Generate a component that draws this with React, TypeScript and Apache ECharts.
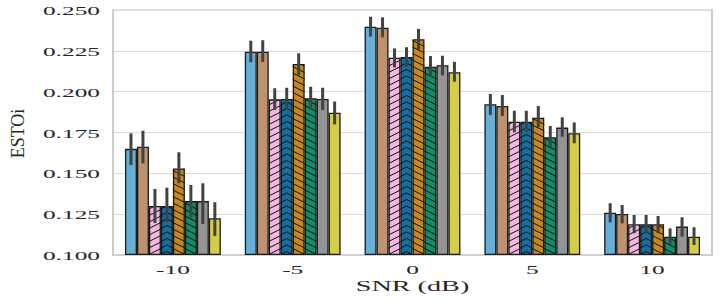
import React, { useEffect, useRef } from 'react';
import * as echarts from 'echarts';

const categories = ['-10', '-5', '0', '5', '10'];
const yTicks = [0.1, 0.125, 0.15, 0.175, 0.2, 0.225, 0.25];
const xAxisTitle = 'SNR (dB)';
const yAxisTitle = 'ESTOi';

const seriesNames = ['M1', 'M2', 'M3', 'M4', 'M5', 'M6', 'M7', 'M8'];
const seriesColors = ['#68AFD7', '#BD926E', '#F2B9E0', '#176D9C', '#C38820', '#168B6A', '#949494', '#D5CD4A'];
const seriesHatch = ['', '', 'up', 'chevron', 'down', 'down', '', ''];

const m1Mean = [0.165, 0.2245, 0.2398, 0.1923, 0.1259];
const m1Low = [0.1551, 0.218, 0.2337, 0.1857, 0.12];
const m1High = [0.1745, 0.2312, 0.2459, 0.1986, 0.1317];

const m2Mean = [0.1663, 0.2245, 0.2392, 0.1912, 0.1251];
const m2Low = [0.1561, 0.2182, 0.2333, 0.1851, 0.1194];
const m2High = [0.1761, 0.2315, 0.2455, 0.198, 0.1306];

const m3Mean = [0.13, 0.1953, 0.2208, 0.1816, 0.1188];
const m3Low = [0.1196, 0.1888, 0.2149, 0.1751, 0.1133];
const m3High = [0.1404, 0.2021, 0.2265, 0.1883, 0.1245];

const m4Mean = [0.13, 0.1955, 0.2212, 0.1816, 0.1188];
const m4Low = [0.1204, 0.1886, 0.2153, 0.1751, 0.1133];
const m4High = [0.1412, 0.2024, 0.2272, 0.1883, 0.1245];

const m5Mean = [0.153, 0.217, 0.2321, 0.1841, 0.1188];
const m5Low = [0.1439, 0.2102, 0.2259, 0.1782, 0.1133];
const m5High = [0.1629, 0.2235, 0.2384, 0.1912, 0.1239];

const m6Mean = [0.133, 0.196, 0.2153, 0.1721, 0.1112];
const m6Low = [0.1231, 0.1888, 0.2092, 0.1663, 0.1067];
const m6High = [0.1429, 0.203, 0.2218, 0.179, 0.1163];

const m7Mean = [0.133, 0.1955, 0.2162, 0.178, 0.1174];
const m7Low = [0.119, 0.1888, 0.21, 0.1724, 0.1112];
const m7High = [0.1439, 0.2024, 0.222, 0.1843, 0.1231];

const m8Mean = [0.1225, 0.1871, 0.2119, 0.1745, 0.1112];
const m8Low = [0.1116, 0.18, 0.2061, 0.1684, 0.1061];
const m8High = [0.1323, 0.194, 0.2183, 0.1812, 0.117];

const GRID_LEFT = 113;
const GRID_RIGHT = 10;
const GRID_TOP = 10;
const GRID_BOTTOM = 45;
const TEXT_COLOR = '#262626';
const STRETCH = 1.88;

function clipSeg(xa: number, xb: number, ya: number, m: number, top: number, bottom: number) {
  let x1 = xa;
  let x2 = xb;
  if (m === 0) {
    if (ya < top || ya > bottom) return null;
  } else {
    const t1 = xa + (top - ya) / m;
    const t2 = xa + (bottom - ya) / m;
    x1 = Math.max(xa, Math.min(t1, t2));
    x2 = Math.min(xb, Math.max(t1, t2));
  }
  if (x2 - x1 < 0.05) return null;
  return { x1, y1: ya + m * (x1 - xa), x2, y2: ya + m * (x2 - xa) };
}

export default function App() {
  const ref = useRef<HTMLDivElement>(null);

  useEffect(() => {
    document.body.style.margin = '0';
    const chart = echarts.init(ref.current as HTMLDivElement, null, { renderer: 'svg' });
    const means = [m1Mean, m2Mean, m3Mean, m4Mean, m5Mean, m6Mean, m7Mean, m8Mean];
    const lows = [m1Low, m2Low, m3Low, m4Low, m5Low, m6Low, m7Low, m8Low];
    const highs = [m1High, m2High, m3High, m4High, m5High, m6High, m7High, m8High];
    const n = seriesNames.length;

    const barSeries = seriesNames.map((name, i) => ({
      type: 'bar',
      name,
      data: means[i],
      barGap: '0%',
      barCategoryGap: '20%',
      clip: true,
      z: 2,
      itemStyle: { color: seriesColors[i], borderColor: '#1a1a1a', borderWidth: 1.3 },
      emphasis: { disabled: true },
    }));

    const hatchData: number[][] = [];
    const errData: number[][] = [];
    for (let i = 0; i < n; i++) {
      for (let c = 0; c < categories.length; c++) {
        if (seriesHatch[i]) hatchData.push([c, means[i][c], i]);
        errData.push([c, lows[i][c], highs[i][c], i]);
      }
    }

    const offsetOf = (hue: number, band: number) => (-0.4 + (hue + 0.5) * (0.8 / n)) * band;

    const option: any = {
      animation: false,
      grid: {
        left: GRID_LEFT,
        right: GRID_RIGHT,
        top: GRID_TOP,
        bottom: GRID_BOTTOM,
        show: true,
        borderColor: '#cccccc',
        borderWidth: 1,
        containLabel: false,
      },
      xAxis: {
        type: 'category',
        data: categories,
        axisTick: { show: false },
        axisLabel: { show: false },
        axisLine: { show: true, lineStyle: { color: '#cccccc', width: 1.5 } },
        splitLine: { show: false },
      },
      yAxis: [
        {
          type: 'value',
          min: yTicks[0],
          max: yTicks[yTicks.length - 1],
          interval: 0.025,
          startValue: yTicks[0],
          axisLabel: { show: false },
          axisTick: { show: false },
          axisLine: { show: true, lineStyle: { color: '#cccccc', width: 2 } },
          splitLine: { show: true, lineStyle: { color: '#dcdcdc', width: 1 } },
        },
        {
          type: 'value',
          position: 'right',
          min: yTicks[0],
          max: yTicks[yTicks.length - 1],
          interval: 0.025,
          axisLabel: { show: false },
          axisTick: { show: false },
          axisLine: { show: true, lineStyle: { color: '#cccccc', width: 2 } },
          splitLine: { show: false },
        },
      ],
      series: [
        ...barSeries,
        {
          type: 'custom',
          name: 'hatch',
          z: 3,
          silent: true,
          data: hatchData,
          encode: { x: 0, y: 1 },
          renderItem: (params: any, api: any) => {
            const cat = api.value(0);
            const v = api.value(1);
            const hue = api.value(2);
            const band = api.size([0, 0])[0];
            const bw = (band * 0.8) / n;
            const topPt = api.coord([cat, v]);
            const basePt = api.coord([cat, yTicks[0]]);
            const cx = topPt[0] + offsetOf(hue, band);
            const xl = cx - bw / 2;
            const xr = cx + bw / 2;
            const yt = topPt[1] + 0.7;
            const yb = basePt[1];
            const kind = seriesHatch[hue];
            const slope = 0.5;
            const gap = 6.5;
            const children: any[] = [];
            const push = (s: any) => {
              if (s) children.push({ type: 'line', shape: s, style: { stroke: '#111111', lineWidth: 1 } });
            };
            for (let ya = yb + slope * bw + gap; ya > yt - slope * bw - gap; ya -= gap) {
              if (kind === 'up') push(clipSeg(xl, xr, ya, -slope, yt, yb));
              else if (kind === 'down') push(clipSeg(xl, xr, ya - slope * bw, slope, yt, yb));
              else if (kind === 'chevron') {
                push(clipSeg(xl, cx, ya, -slope, yt, yb));
                push(clipSeg(cx, xr, ya - slope * (bw / 2), slope, yt, yb));
              }
            }
            return { type: 'group', children };
          },
        },
        {
          type: 'custom',
          name: 'ci',
          z: 4,
          silent: true,
          data: errData,
          encode: { x: 0, y: [1, 2] },
          renderItem: (params: any, api: any) => {
            const cat = api.value(0);
            const hue = api.value(3);
            const band = api.size([0, 0])[0];
            const lo = api.coord([cat, api.value(1)]);
            const hi = api.coord([cat, api.value(2)]);
            const cx = lo[0] + offsetOf(hue, band);
            return {
              type: 'line',
              shape: { x1: cx, y1: lo[1], x2: cx, y2: hi[1] },
              style: { stroke: '#424242', lineWidth: 3 },
            };
          },
        },
      ],
    };

    chart.setOption(option);

    const px = (i: number) => chart.convertToPixel({ xAxisIndex: 0 }, i) as number;
    const py = (v: number) => chart.convertToPixel({ yAxisIndex: 0 }, v) as number;
    const bottom = py(yTicks[0]);
    const top = py(yTicks[yTicks.length - 1]);
    const font = (s: number) => `${s}px "Liberation Serif", "Times New Roman", serif`;

    const elements: any[] = [];
    yTicks.forEach((v) => {
      elements.push({
        type: 'text',
        x: GRID_LEFT - 13,
        y: py(v) + 0.5,
        scaleX: STRETCH,
        silent: true,
        style: {
          text: v.toFixed(3), x: 0, y: 0, font: font(13.5), fill: TEXT_COLOR,
          align: 'right', verticalAlign: 'middle', textAlign: 'right', textVerticalAlign: 'middle',
        },
      });
    });
    categories.forEach((c, i) => {
      elements.push({
        type: 'text',
        x: px(i),
        y: bottom + 14,
        scaleX: STRETCH,
        silent: true,
        style: {
          text: c, x: 0, y: 0, font: font(13.5), fill: TEXT_COLOR,
          align: 'center', verticalAlign: 'middle', textAlign: 'center', textVerticalAlign: 'middle',
        },
      });
    });
    elements.push({
      type: 'text',
      x: (px(0) + px(categories.length - 1)) / 2,
      y: bottom + 31,
      scaleX: STRETCH,
      silent: true,
      style: {
        text: xAxisTitle, x: 0, y: 0, font: font(15), fill: TEXT_COLOR,
        align: 'center', verticalAlign: 'middle', textAlign: 'center', textVerticalAlign: 'middle',
      },
    });
    elements.push({
      type: 'text',
      x: 17.5,
      y: (top + bottom) / 2 + 1,
      rotation: Math.PI / 2,
      silent: true,
      style: {
        text: yAxisTitle, x: 0, y: 0, font: font(18), fill: TEXT_COLOR,
        align: 'center', verticalAlign: 'middle', textAlign: 'center', textVerticalAlign: 'middle',
      },
    });

    chart.setOption({ graphic: { elements } });

    return () => {
      chart.dispose();
    };
  }, []);

  return <div ref={ref} style={{ width: 722, height: 300 }} />;
}
